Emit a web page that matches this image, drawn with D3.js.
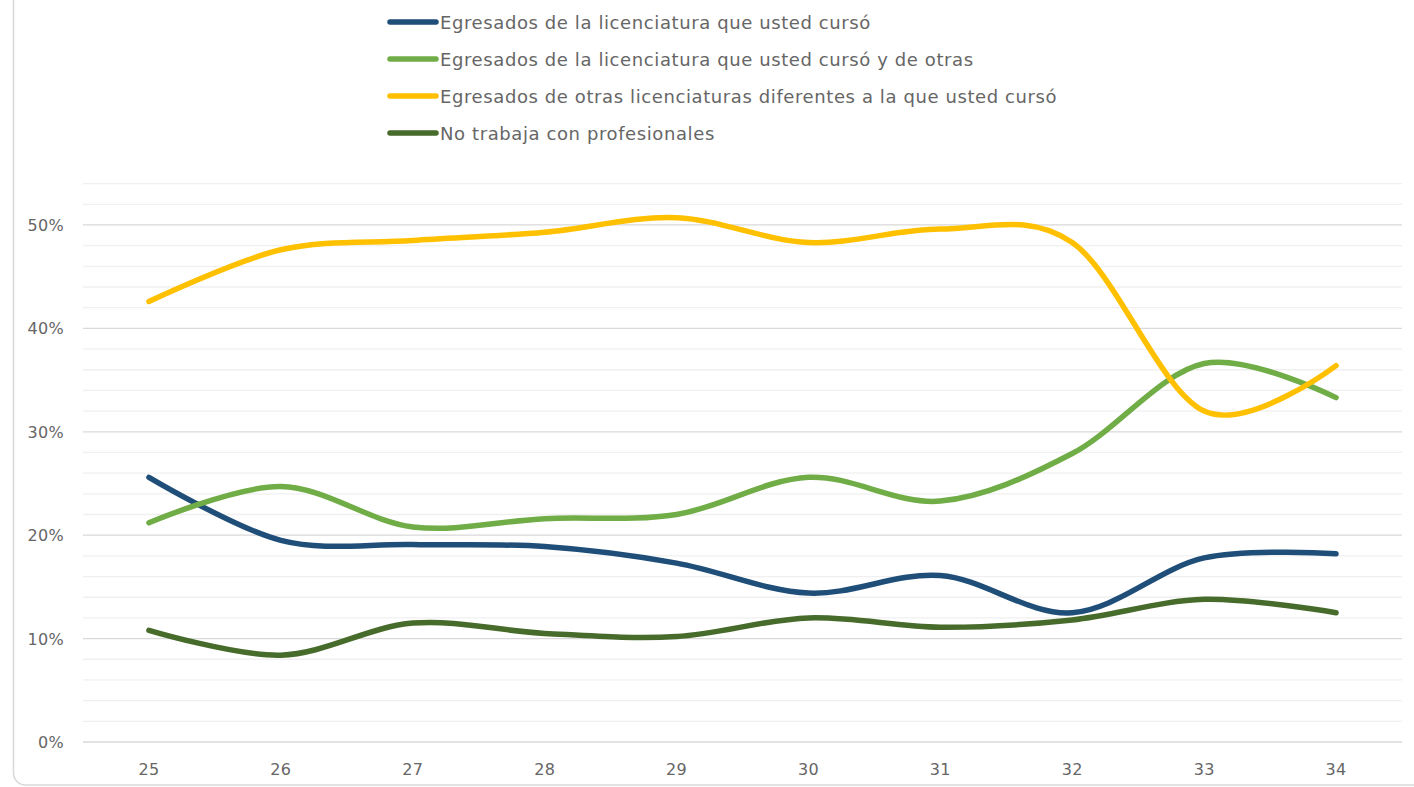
<!DOCTYPE html>
<html>
<head>
<meta charset="utf-8">
<script src="https://cdn.jsdelivr.net/npm/d3@7"></script>
<style>
  body { margin: 0; background: #fff; }
  svg { display: block; }
  text { font-family: "DejaVu Sans", sans-serif; fill: #666666; }
</style>
</head>
<body>
<div id="chart"></div>
<script>
const categories = ['25', '26', '27', '28', '29', '30', '31', '32', '33', '34']
const seriesNames = [
  'Egresados de la licenciatura que usted cursó',
  'Egresados de la licenciatura que usted cursó y de otras',
  'Egresados de otras licenciaturas diferentes a la que usted cursó',
  'No trabaja con profesionales'
]
const seriesColors = ['#1f4e79', '#70ad47', '#ffc000', '#466b2b']
const mismaLic = [25.6, 19.5, 19.1, 18.9, 17.3, 14.4, 16.1, 12.5, 17.8, 18.2]
const mismaYOtras = [21.2, 24.7, 20.8, 21.6, 22.0, 25.6, 23.3, 27.9, 36.6, 33.3]
const otrasLic = [42.6, 47.6, 48.5, 49.3, 50.7, 48.3, 49.6, 48.3, 32.0, 36.4]
const noTrabaja = [10.8, 8.4, 11.5, 10.5, 10.2, 12.0, 11.1, 11.8, 13.8, 12.5]
const yTicks = [0, 10, 20, 30, 40, 50]
const allSeries = [mismaLic, mismaYOtras, otrasLic, noTrabaja]

const width = 1414, height = 787
const margin = {top: 183.6, right: 12, bottom: 45, left: 83}

const svg = d3.select('#chart').append('svg')
  .attr('width', width)
  .attr('height', height)

// chart area border (only left/bottom visible)
svg.append('rect')
  .attr('x', 13.5)
  .attr('y', -20)
  .attr('width', width + 20)
  .attr('height', 805)
  .attr('rx', 12)
  .attr('fill', 'none')
  .attr('stroke', '#d9d9d9')
  .attr('stroke-width', 1.5)

const x = d3.scalePoint()
  .domain(categories)
  .range([margin.left, width - margin.right])
  .padding(0.5)

const y = d3.scaleLinear()
  .domain([0, 54])
  .range([742, margin.top])

const g = svg.append('g')

// minor gridlines every 2%
g.selectAll('.minor')
  .data(d3.range(2, 55, 2).filter(d => d % 10 !== 0))
  .enter().append('line')
  .attr('x1', margin.left)
  .attr('x2', width - margin.right)
  .attr('y1', d => y(d))
  .attr('y2', d => y(d))
  .attr('stroke', '#f0f0f0')
  .attr('stroke-width', 1.3)

// major gridlines
g.selectAll('.major')
  .data(yTicks)
  .enter().append('line')
  .attr('x1', margin.left)
  .attr('x2', width - margin.right)
  .attr('y1', d => y(d))
  .attr('y2', d => y(d))
  .attr('stroke', '#d9d9d9')
  .attr('stroke-width', 1.3)

// y labels
g.selectAll('.ylab')
  .data(yTicks)
  .enter().append('text')
  .attr('x', 64)
  .attr('y', d => y(d) + 6)
  .style('text-anchor', 'end')
  .style('font-size', '16px')
  .style('letter-spacing', '0.3px')
  .text(d => d + '%')

// x labels
g.selectAll('.xlab')
  .data(categories)
  .enter().append('text')
  .attr('x', d => x(d))
  .attr('y', 775)
  .style('text-anchor', 'middle')
  .style('font-size', '16px')
  .style('letter-spacing', '0.3px')
  .text(d => d)

// lines (Excel-style smoothing)
const line = d3.line()
  .x((d, i) => x(categories[i]))
  .y(d => y(d))
  .curve(d3.curveCardinal.tension(0))

g.selectAll('.series')
  .data(allSeries)
  .enter().append('path')
  .attr('d', d => line(d))
  .attr('fill', 'none')
  .attr('stroke', (d, i) => seriesColors[i])
  .attr('stroke-width', 5.5)
  .attr('stroke-linecap', 'round')
  .attr('stroke-linejoin', 'round')

// legend
const legend = svg.append('g')
const rows = legend.selectAll('.legend')
  .data(seriesNames)
  .enter().append('g')
  .attr('transform', (d, i) => `translate(0, ${22 + i * 37})`)
rows.append('line')
  .attr('x1', 390)
  .attr('x2', 436)
  .attr('stroke', (d, i) => seriesColors[i])
  .attr('stroke-width', 5.5)
  .attr('stroke-linecap', 'round')
rows.append('text')
  .attr('x', 440)
  .attr('y', 7)
  .style('font-size', '18px')
  .style('letter-spacing', '0.6px')
  .text(d => d)
</script>
</body>
</html>
